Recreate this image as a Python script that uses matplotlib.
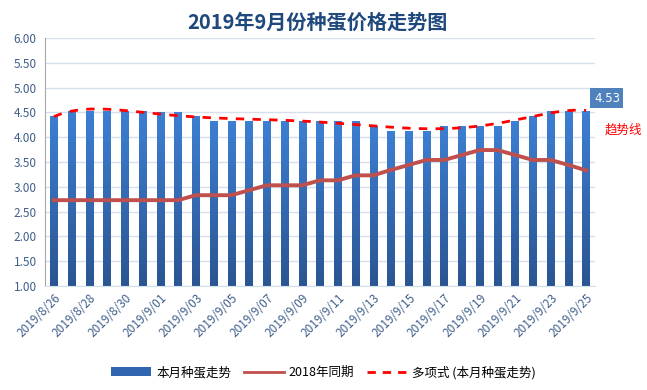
import numpy as np
import matplotlib
matplotlib.use('Agg')
import matplotlib.pyplot as plt
from matplotlib.colors import LinearSegmentedColormap
from matplotlib.lines import Line2D
from matplotlib.patches import Patch

plt.rcParams['font.family'] = ['Noto Sans CJK SC', 'DejaVu Sans']

# 日期 2019/8/26 - 2019/9/25
dates = ['2019/8/26', '2019/8/27', '2019/8/28', '2019/8/29', '2019/8/30', '2019/8/31',
         '2019/9/01', '2019/9/02', '2019/9/03', '2019/9/04', '2019/9/05', '2019/9/06',
         '2019/9/07', '2019/9/08', '2019/9/09', '2019/9/10', '2019/9/11', '2019/9/12',
         '2019/9/13', '2019/9/14', '2019/9/15', '2019/9/16', '2019/9/17', '2019/9/18',
         '2019/9/19', '2019/9/20', '2019/9/21', '2019/9/22', '2019/9/23', '2019/9/24',
         '2019/9/25']

# 本月种蛋走势
price_2019 = [4.43, 4.53, 4.53, 4.53, 4.53, 4.53, 4.50, 4.50, 4.43, 4.33,
              4.33, 4.33, 4.33, 4.33, 4.33, 4.33, 4.33, 4.33, 4.23, 4.13,
              4.13, 4.13, 4.23, 4.23, 4.23, 4.23, 4.33, 4.43, 4.52, 4.53,
              4.53]

# 2018年同期
price_2018 = [2.73, 2.73, 2.73, 2.73, 2.73, 2.73, 2.73, 2.73, 2.83, 2.83,
              2.83, 2.93, 3.03, 3.03, 3.03, 3.13, 3.13, 3.23, 3.23, 3.34,
              3.44, 3.54, 3.54, 3.64, 3.74, 3.74, 3.64, 3.54, 3.54, 3.44,
              3.33]

x = np.arange(1, len(dates) + 1)

# 多项式趋势线 (Excel 风格, 6 阶)
coef = np.polyfit(x, price_2019, 6)
x_fine = np.linspace(x[0], x[-1], 300)
trend = np.polyval(coef, x_fine)

fig = plt.figure(figsize=(6.47, 3.90), dpi=100)
ax = fig.add_axes([0.0696, 0.2667, 0.850, 0.636])

# 柱子渐变色
grad_cmap = LinearSegmentedColormap.from_list('bar', ['#2B5592', '#3D7FD3'])
bars = ax.bar(x, price_2019, width=0.42, color='#3470BF', zorder=2)
gradient = np.linspace(0, 1, 256).reshape(-1, 1)
for b in bars:
    bx, by = b.get_x(), b.get_y()
    w, h = b.get_width(), b.get_height()
    im = ax.imshow(gradient, cmap=grad_cmap, aspect='auto', origin='lower',
                   extent=[bx, bx + w, 1.0, by + h], zorder=2.1)
    im.set_clip_path(b)

ax.plot(x, price_2018, color='#C0504D', linewidth=2.8, zorder=3)
ax.plot(x_fine, trend, color='#FF0000', linewidth=2, linestyle=(0, (3, 3)), zorder=4)

ax.set_xlim(0.5, len(dates) + 0.5)
ax.set_ylim(1, 6)
ax.set_yticks(np.arange(1, 6.01, 0.5))
ax.set_yticklabels([f'{v:.2f}' for v in np.arange(1, 6.01, 0.5)])
ax.set_xticks(x[::2])
ax.set_xticklabels(dates[::2], rotation=45, ha='right', rotation_mode='anchor')

ax.grid(axis='y', color='#D6E0EC', linewidth=1, zorder=0)
ax.set_axisbelow(True)
for s in ['top', 'right']:
    ax.spines[s].set_visible(False)
ax.spines['left'].set_color('#A6A6A6')
ax.spines['bottom'].set_color('#D6E0EC')
ax.tick_params(axis='y', length=0, labelsize=8.5, labelcolor='#3F5F8A', pad=6)
ax.tick_params(axis='x', length=0, labelsize=8.5, labelcolor='#3F5F8A', pad=4)

# 最后一个数据标签
ax.annotate(f'{price_2019[-1]:.2f}', xy=(x[-1], price_2019[-1]), xytext=(15, 9),
            textcoords='offset points', ha='center', va='center', fontsize=8.5,
            color='white', family=['DejaVu Sans'],
            bbox=dict(boxstyle='square,pad=0.3', fc='#4F81BD', ec='none'))
fig.text(0.935, 0.667, '趋势线', color='#FF0000', fontsize=9, ha='left', va='center')

fig.text(0.49, 0.944, '2019年9月份种蛋价格走势图', ha='center', va='center',
         fontsize=14.5, fontweight='bold', color='#1F497D')

handles = [Patch(facecolor='#3066B0'),
           Line2D([0], [0], color='#C0504D', linewidth=2),
           Line2D([0], [0], color='#FF0000', linewidth=2, linestyle=(0, (3, 2.5)))]
labels = ['本月种蛋走势', '2018年同期', '多项式 (本月种蛋走势)']
fig.legend(handles, labels, loc='center', bbox_to_anchor=(0.5, 0.045), ncol=3,
           frameon=False, fontsize=9, handlelength=3.2, columnspacing=1.0,
           handletextpad=0.4)

fig.savefig('out.png', dpi=100, facecolor='white')
